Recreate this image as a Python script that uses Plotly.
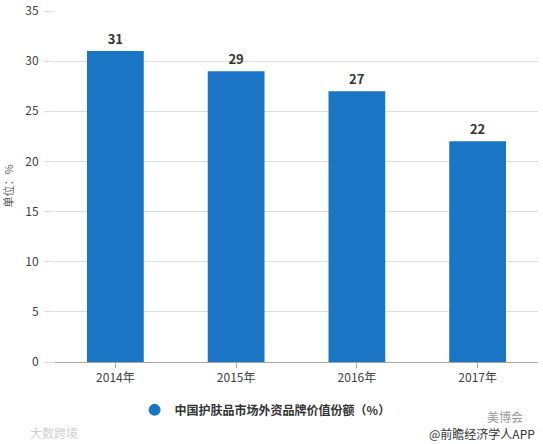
"""Bar chart: foreign brand share of China's skincare market."""

import plotly.graph_objects as go

# Data
YEARS = ["2014年", "2015年", "2016年", "2017年"]
SHARE = [31, 29, 27, 22]
SERIES_NAME = "中国护肤品市场外资品牌价值份额（%）"
Y_TICKS = [0, 5, 10, 15, 20, 25, 30, 35]

COLOR_BAR = "#1a76c4"
COLOR_TEXT = "#404040"
COLOR_GRID = "#dcdcdc"
FONT = "Noto Sans CJK SC, Microsoft YaHei, sans-serif"

fig = go.Figure()

fig.add_trace(
    go.Bar(
        x=YEARS,
        y=SHARE,
        name=SERIES_NAME,
        marker=dict(color=COLOR_BAR, line=dict(width=0)),
        text=[str(v) for v in SHARE],
        textposition="outside",
        textfont=dict(size=13, color="#333333", family=FONT, weight="bold"),
        cliponaxis=False,
        showlegend=False,
    )
)

# Legend entry as a circle marker
fig.add_trace(
    go.Scatter(
        x=[None],
        y=[None],
        mode="markers",
        name=SERIES_NAME,
        marker=dict(symbol="circle", size=12, color=COLOR_BAR),
        showlegend=True,
    )
)

fig.update_layout(
    width=543,
    height=444,
    margin=dict(l=55, r=5, t=10, b=82, autoexpand=False),
    paper_bgcolor="white",
    plot_bgcolor="white",
    font=dict(family=FONT, size=12, color=COLOR_TEXT),
    bargap=0.53,
    xaxis=dict(
        showgrid=False,
        showline=True,
        linecolor="#a6a6a6",
        linewidth=1,
        ticks="outside",
        ticklen=5,
        tickcolor="#a6a6a6",
        tickfont=dict(size=12, color=COLOR_TEXT),
    ),
    yaxis=dict(
        range=[0, 35.1],
        tickvals=Y_TICKS,
        showgrid=True,
        gridcolor=COLOR_GRID,
        zeroline=False,
        ticks="outside",
        ticklen=10,
        tickcolor=COLOR_GRID,
        tickfont=dict(size=12, color=COLOR_TEXT),
        ticklabelstandoff=3,
        title=dict(text="单位：%", font=dict(size=11, color="#606060"), standoff=12),
    ),
    legend=dict(
        orientation="h",
        x=0.435,
        xanchor="center",
        y=-0.136,
        yanchor="middle",
        font=dict(size=12, color="#333333", weight="bold"),
        itemsizing="constant",
    ),
    annotations=[
        dict(
            text="美博会",
            xref="paper", yref="paper", x=0.973, y=-0.156,
            xanchor="right", yanchor="middle", showarrow=False,
            font=dict(size=12, color="#9a9a9a"),
        ),
        dict(
            text="@前瞻经济学人APP",
            xref="paper", yref="paper", x=0.998, y=-0.204,
            xanchor="right", yanchor="middle", showarrow=False,
            font=dict(size=12, color="#333333"),
        ),
        dict(
            text="大数跨境",
            xref="paper", yref="paper", x=-0.056, y=-0.199,
            xanchor="left", yanchor="middle", showarrow=False,
            font=dict(size=12, color="#d0d0d0"),
        ),
    ],
)

# drop the default 8px body margin so the figure fills the window exactly
fig.write_html(
    "out.html",
    config={"displayModeBar": False},
    post_script="document.body.style.margin='0';",
)
